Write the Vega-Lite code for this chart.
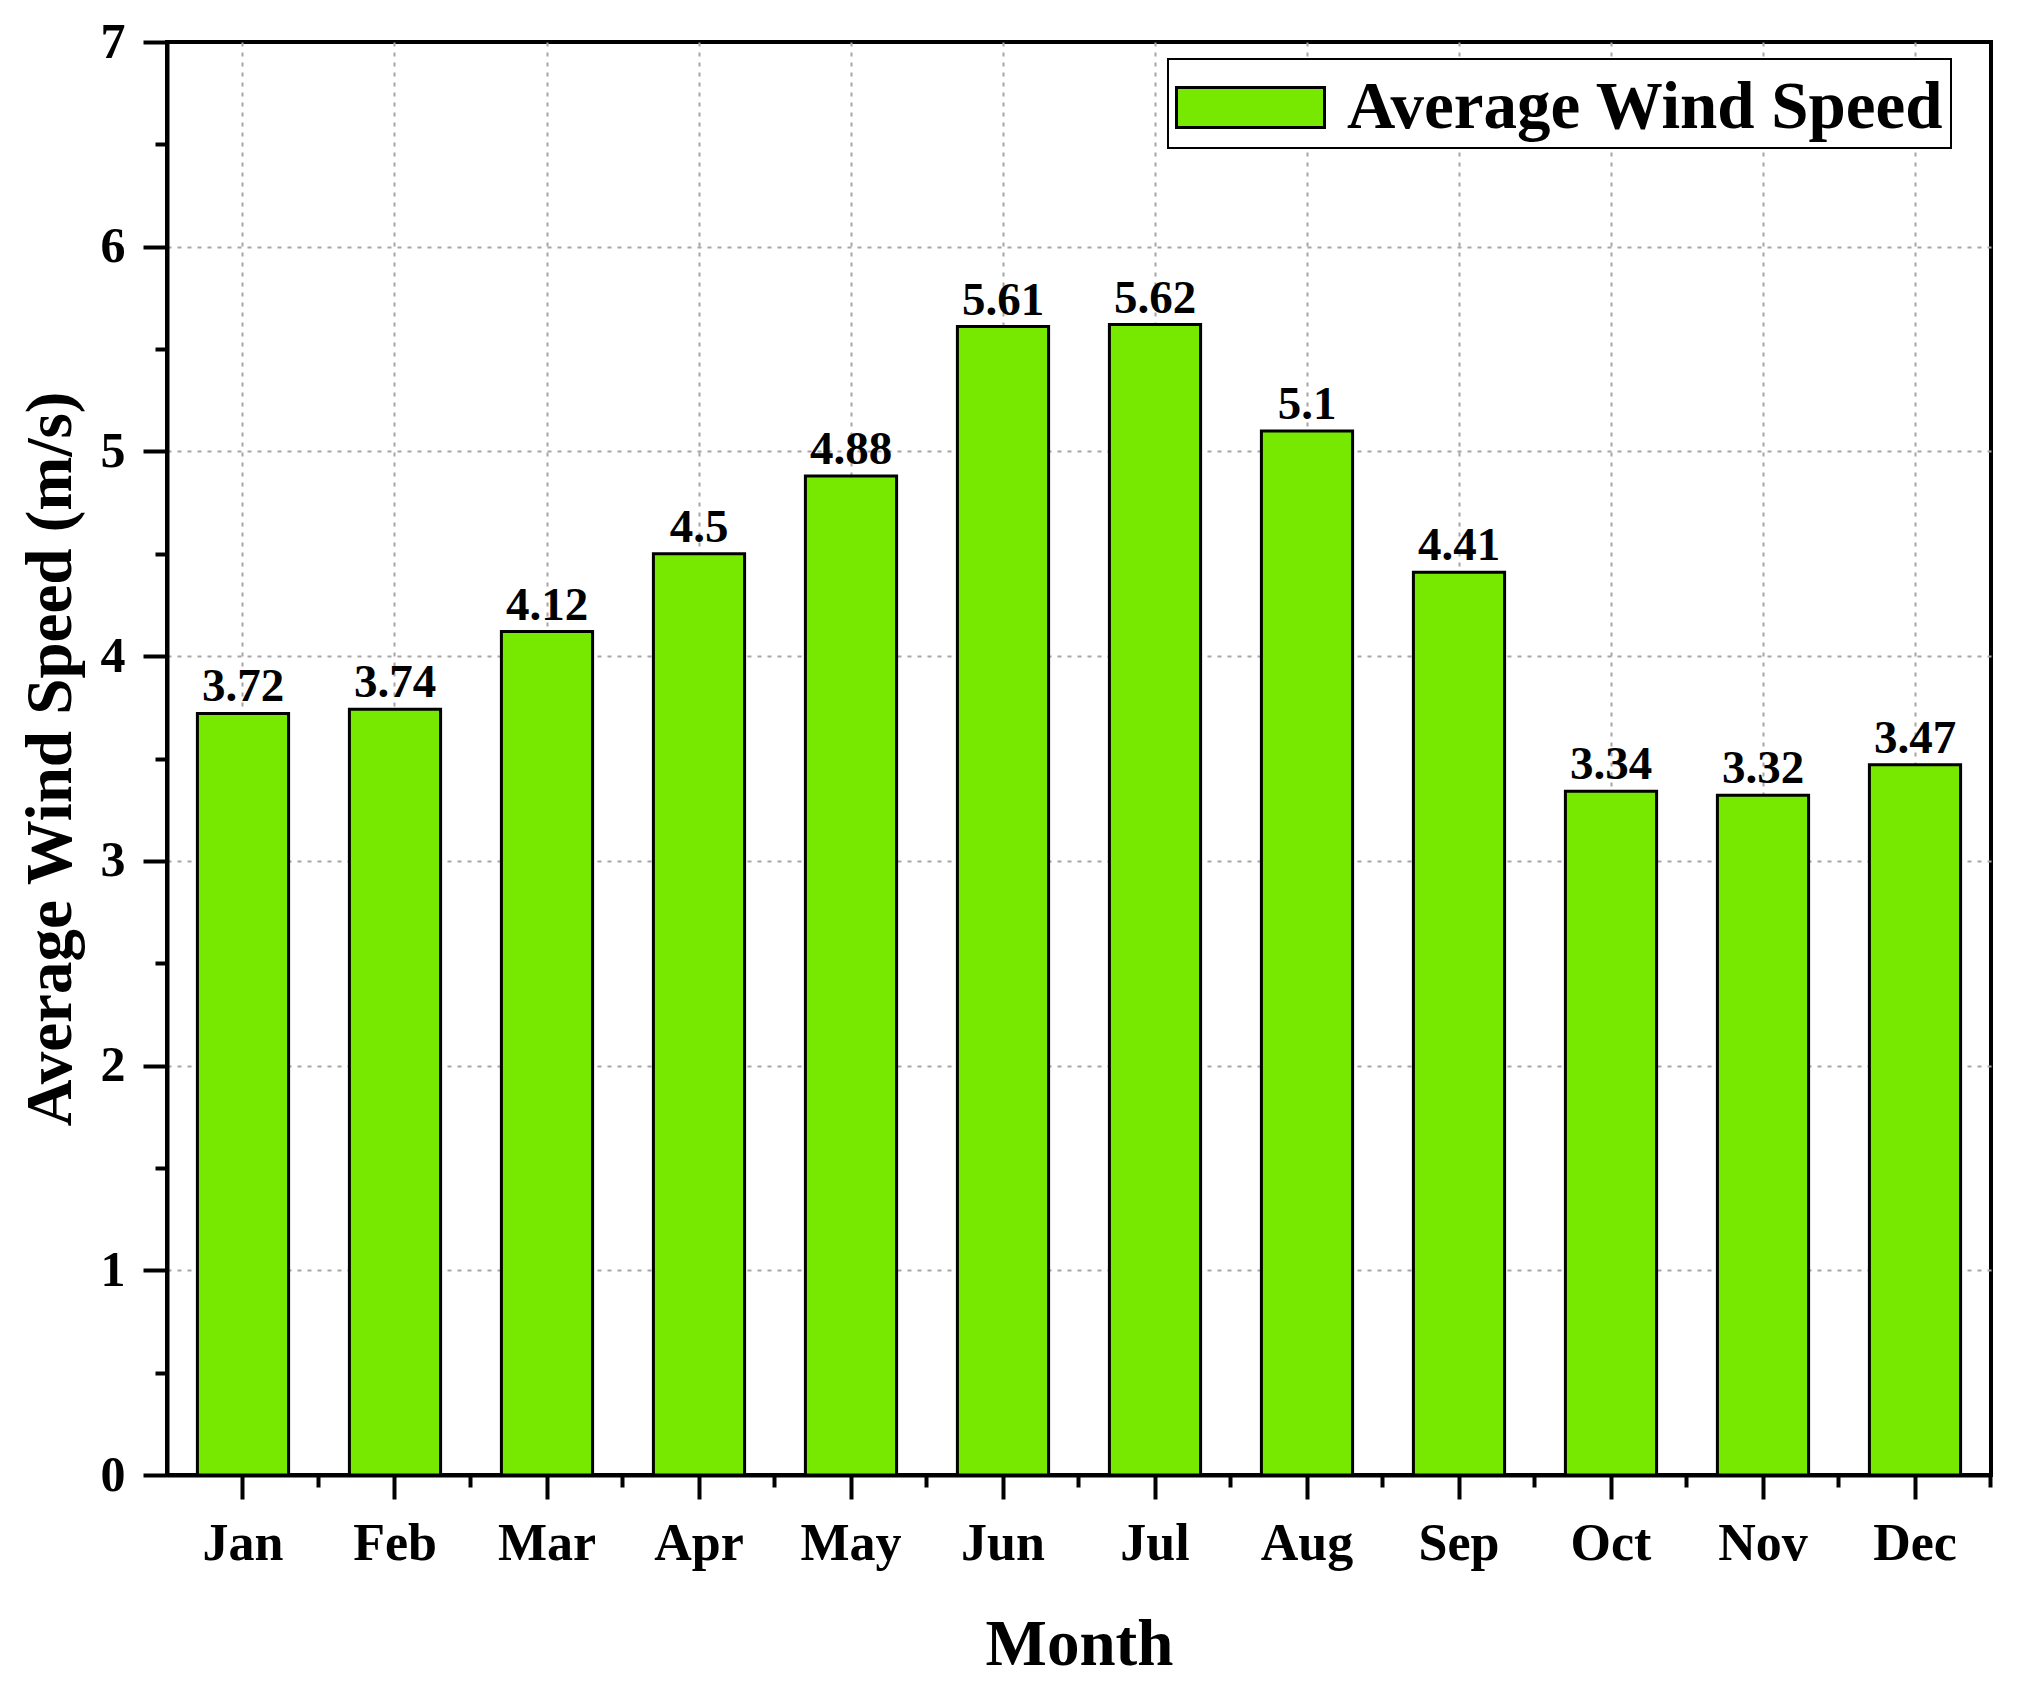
{
  "$schema": "https://vega.github.io/schema/vega-lite/v6.json",
  "width": 1824,
  "height": 1433,
  "autosize": "none",
  "padding": {"left": 167, "top": 42, "right": 35, "bottom": 218},
  "background": "white",
  "data": {
    "values": [
      {"Month": "Jan", "Speed": 3.72, "Series": "Average Wind Speed"},
      {"Month": "Feb", "Speed": 3.74, "Series": "Average Wind Speed"},
      {"Month": "Mar", "Speed": 4.12, "Series": "Average Wind Speed"},
      {"Month": "Apr", "Speed": 4.5, "Series": "Average Wind Speed"},
      {"Month": "May", "Speed": 4.88, "Series": "Average Wind Speed"},
      {"Month": "Jun", "Speed": 5.61, "Series": "Average Wind Speed"},
      {"Month": "Jul", "Speed": 5.62, "Series": "Average Wind Speed"},
      {"Month": "Aug", "Speed": 5.1, "Series": "Average Wind Speed"},
      {"Month": "Sep", "Speed": 4.41, "Series": "Average Wind Speed"},
      {"Month": "Oct", "Speed": 3.34, "Series": "Average Wind Speed"},
      {"Month": "Nov", "Speed": 3.32, "Series": "Average Wind Speed"},
      {"Month": "Dec", "Speed": 3.47, "Series": "Average Wind Speed"}
    ]
  },
  "encoding": {
    "x": {
      "field": "Month",
      "type": "nominal",
      "sort": null,
      "scale": {"paddingInner": 0.4, "paddingOuter": 0.2}
    },
    "y": {
      "field": "Speed",
      "type": "quantitative",
      "scale": {"domain": [0, 7], "nice": false, "zero": true}
    }
  },
  "layer": [
    {
      "mark": {"type": "bar", "fill": "#77E800", "stroke": "black", "strokeWidth": 3},
      "encoding": {
        "x": {
          "field": "Month",
          "type": "nominal",
          "sort": null,
          "axis": {
            "orient": "bottom",
            "title": "Month",
            "labelAngle": 0,
            "labelFontSize": 52,
            "labelPadding": 19,
            "tickSize": 24,
            "grid": true,
            "titleFontSize": 65,
            "titlePadding": 44
          }
        },
        "y": {
          "field": "Speed",
          "type": "quantitative",
          "axis": {
            "orient": "left",
            "title": "Average Wind Speed (m/s)",
            "values": [0, 1, 2, 3, 4, 5, 6, 7],
            "labelFontSize": 50,
            "labelPadding": 18,
            "tickSize": 24,
            "grid": true,
            "gridOpacity": {"condition": {"test": "datum.value === 0 || datum.value === 7", "value": 0}, "value": 1},
            "titleFontSize": 65,
            "titlePadding": 16
          }
        },
        "color": {
          "field": "Series",
          "type": "nominal",
          "scale": {"domain": ["Average Wind Speed"], "range": ["#77E800"]},
          "legend": {
            "title": null,
            "orient": "none",
            "legendX": 1001,
            "legendY": 17,
            "symbolType": "M-1,-0.5H2.7V0.5H-1Z",
            "symbolSize": 6400,
            "symbolStrokeColor": "black",
            "symbolStrokeWidth": 3,
            "symbolFillColor": "#77E800",
            "symbolOpacity": 1,
            "labelFontSize": 67,
            "labelFont": "Liberation Serif",
            "labelFontWeight": "bold",
            "labelColor": "black",
            "labelOffset": 89,
            "labelLimit": 1000
          }
        }
      }
    },
    {
      "mark": {
        "type": "text",
        "baseline": "bottom",
        "dy": -2,
        "font": "Liberation Serif",
        "fontWeight": "bold",
        "fontSize": 47,
        "color": "black"
      },
      "encoding": {
        "x": {
          "field": "Month",
          "type": "nominal",
          "sort": null,
          "axis": {
            "orient": "bottom",
            "title": null,
            "labels": false,
            "domain": false,
            "grid": false,
            "bandPosition": 1.3333,
            "tickSize": 12
          }
        },
        "y": {
          "field": "Speed",
          "type": "quantitative",
          "axis": {
            "orient": "left",
            "title": null,
            "labels": false,
            "domain": false,
            "grid": false,
            "values": [0.5, 1.5, 2.5, 3.5, 4.5, 5.5, 6.5],
            "tickSize": 12
          }
        },
        "text": {"field": "Speed", "type": "quantitative"}
      }
    }
  ],
  "resolve": {"axis": {"x": "independent", "y": "independent"}},
  "config": {
    "view": {"stroke": "black", "strokeWidth": 4},
    "legend": {
      "padding": 7,
      "fillColor": "white",
      "strokeColor": "black",
      "strokeWidth": 2
    },
    "axis": {
      "labelFont": "Liberation Serif",
      "labelFontWeight": "bold",
      "labelColor": "black",
      "titleFont": "Liberation Serif",
      "titleFontWeight": "bold",
      "titleColor": "black",
      "domainColor": "black",
      "domainWidth": 4,
      "tickColor": "black",
      "tickWidth": 4,
      "gridColor": "#a6a6a6",
      "gridWidth": 2,
      "gridDash": [4, 6]
    }
  }
}
